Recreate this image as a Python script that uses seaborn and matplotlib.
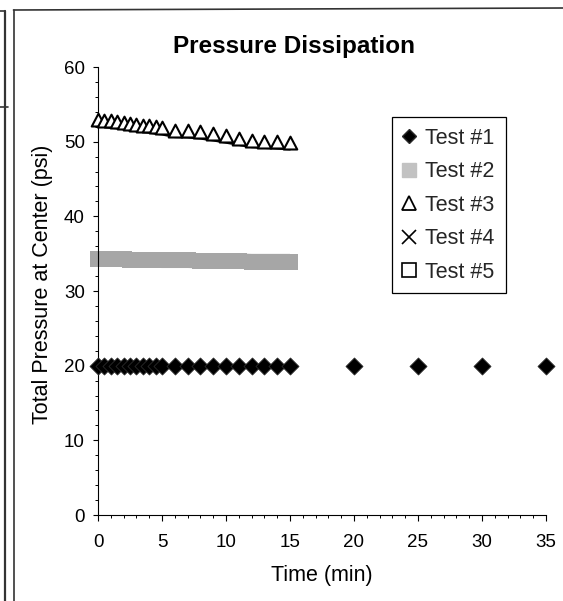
import numpy as np
import pandas as pd
import matplotlib
matplotlib.use("Agg")
import matplotlib.pyplot as plt
from matplotlib.lines import Line2D
from matplotlib.path import Path
from matplotlib.ticker import MultipleLocator
import seaborn as sns

# ---------------- data ----------------
time_main = [0, 0.5, 1, 1.5, 2, 2.5, 3, 3.5, 4, 4.5, 5,
             6, 7, 8, 9, 10, 11, 12, 13, 14, 15]
time_test1 = time_main + [20, 25, 30, 35]
psi_test1 = [20.0, 20.0, 20.0, 20.0, 20.0, 20.0, 20.0, 20.0, 20.0, 20.0, 20.0,
             20.0, 20.0, 20.0, 20.0, 20.0, 20.0, 20.0, 20.0, 20.0, 20.0,
             20.0, 20.0, 20.0, 20.0]
psi_test2 = [34.3, 34.3, 34.3, 34.3, 34.25, 34.2, 34.2, 34.2, 34.2, 34.15, 34.1,
             34.1, 34.1, 34.05, 34.0, 34.0, 34.0, 33.95, 33.95, 33.95, 33.95]
psi_test3 = [52.1, 52.0, 51.9, 51.8, 51.7, 51.55, 51.45, 51.35, 51.25, 51.1, 51.0,
             50.65, 50.6, 50.45, 50.2, 49.9, 49.6, 49.3, 49.2, 49.1, 49.0]
time_test4 = []
psi_test4 = []
time_test5 = []
psi_test5 = []

legend_labels = ["Test #1", "Test #2", "Test #3", "Test #4", "Test #5"]
title_text = "Pressure Dissipation"
x_label = "Time (min)"
y_label = "Total Pressure at Center (psi)"
x_ticks = [0, 5, 10, 15, 20, 25, 30, 35]
y_ticks = [0, 10, 20, 30, 40, 50, 60]

# ---------------- style ----------------
sns.set_theme(style="ticks")
plt.rcParams["font.family"] = ["Liberation Sans", "DejaVu Sans"]
plt.rcParams["axes.linewidth"] = 0.8

W, H = 563, 601
fig = plt.figure(figsize=(W / 100, H / 100), dpi=100)
fig.patch.set_facecolor("white")

def px_x(x):
    return x / W

def px_y(y):
    return 1 - y / H

ax = fig.add_axes([px_x(98), px_y(515), 448 / W, 448 / H])
ax.set_facecolor("white")

# Test #2 - dense gray band
df2 = pd.DataFrame({"t": time_main, "p": psi_test2})
sns.lineplot(data=df2, x="t", y="p", ax=ax, color="#a6a6a6", lw=11,
             marker="s", markersize=11, markerfacecolor="#a6a6a6",
             markeredgecolor="#a6a6a6", markeredgewidth=0,
             solid_capstyle="butt", clip_on=False, legend=False, zorder=2)

# Test #3 - triangles sitting on a line
tri_marker = Path([(-1, 0), (0, 1.9), (1, 0), (-1, 0)],
                  [Path.MOVETO, Path.LINETO, Path.LINETO, Path.CLOSEPOLY])
df3 = pd.DataFrame({"t": time_main, "p": psi_test3})
sns.lineplot(data=df3, x="t", y="p", ax=ax, color="black", lw=1.9,
             marker=tri_marker, markersize=18.5, markerfacecolor="white",
             markeredgecolor="black", markeredgewidth=1.5,
             clip_on=False, legend=False, zorder=3)

# Test #1 - black diamonds
df1 = pd.DataFrame({"t": time_test1, "p": psi_test1})
sns.scatterplot(data=df1, x="t", y="p", ax=ax, marker="D", s=75,
                color="black", edgecolor="#2a2a2a", linewidth=0.6,
                clip_on=False, legend=False, zorder=4)

# axes
ax.set_xlim(0, 35)
ax.set_ylim(0, 60)
ax.set_xticks(x_ticks)
ax.set_yticks(y_ticks)
ax.xaxis.set_minor_locator(MultipleLocator(1))
ax.yaxis.set_minor_locator(MultipleLocator(2))
sns.despine(ax=ax)
for s in ["left", "bottom"]:
    ax.spines[s].set_color("black")
    ax.spines[s].set_linewidth(0.8)
ax.tick_params(axis="x", which="major", direction="out", length=4, width=0.8,
               pad=10, labelsize=13.5, colors="black")
ax.tick_params(axis="x", which="minor", direction="out", length=2.5, width=0.7,
               colors="black")
ax.tick_params(axis="y", which="major", direction="out", length=3.5, width=0.8,
               pad=6, labelsize=13.5, colors="black")
ax.tick_params(axis="y", which="minor", direction="out", length=2, width=0.7,
               colors="black")

ax.set_xlabel(x_label, fontsize=15.5, color="black")
ax.set_ylabel(y_label, fontsize=15.5, color="black")
ax.xaxis.set_label_coords(0.5, (515 - 575) / 448)
ax.xaxis.label.set_verticalalignment("center")
ax.yaxis.set_label_coords((43 - 98) / 448, (515 - 284) / 448)
ax.yaxis.label.set_verticalalignment("center")

ax.set_title(title_text, fontsize=17.5, fontweight="bold", color="black",
             x=(294 - 98) / 448, y=(515 - 46) / 448, va="center", pad=0)

# legend
handles = [
    Line2D([], [], linestyle="none", marker="D", markersize=7,
           markerfacecolor="black", markeredgecolor="#2a2a2a"),
    Line2D([], [], linestyle="none", marker="s", markersize=10.5,
           markerfacecolor="#c2c2c2", markeredgecolor="#c2c2c2"),
    Line2D([], [], linestyle="none", marker="^", markersize=10.5,
           markerfacecolor="white", markeredgecolor="black", markeredgewidth=1.3),
    Line2D([], [], linestyle="none", marker="x", markersize=10.5,
           color="black", markeredgewidth=1.2),
    Line2D([], [], linestyle="none", marker="s", markersize=10.5,
           markerfacecolor="white", markeredgecolor="black", markeredgewidth=1.2),
]
leg = ax.legend(handles, legend_labels, loc="upper left",
                bbox_to_anchor=((392 - 98) / 448, (515 - 117) / 448),
                borderaxespad=0, fontsize=15.5, frameon=True, fancybox=False,
                shadow=False, handlelength=0.6, handletextpad=0.45,
                borderpad=0.5, labelspacing=0.58, framealpha=1)
leg.get_frame().set_edgecolor("black")
leg.get_frame().set_linewidth(0.9)

# chart-object borders from the source page
def fline(x0, y0, x1, y1, lw=1.2, color="#333333"):
    fig.add_artist(Line2D([px_x(x0), px_x(x1)], [px_y(y0), px_y(y1)],
                          transform=fig.transFigure, color=color, lw=lw))

fline(13.5, 10, 13.5, 601)
fline(13.5, 10, 563, 8)
fline(5, 11, 5, 601, lw=1.6)
fline(0, 11, 5, 11)
fline(0, 107, 8, 107)

fig.savefig("out.png", dpi=100, facecolor="white")
